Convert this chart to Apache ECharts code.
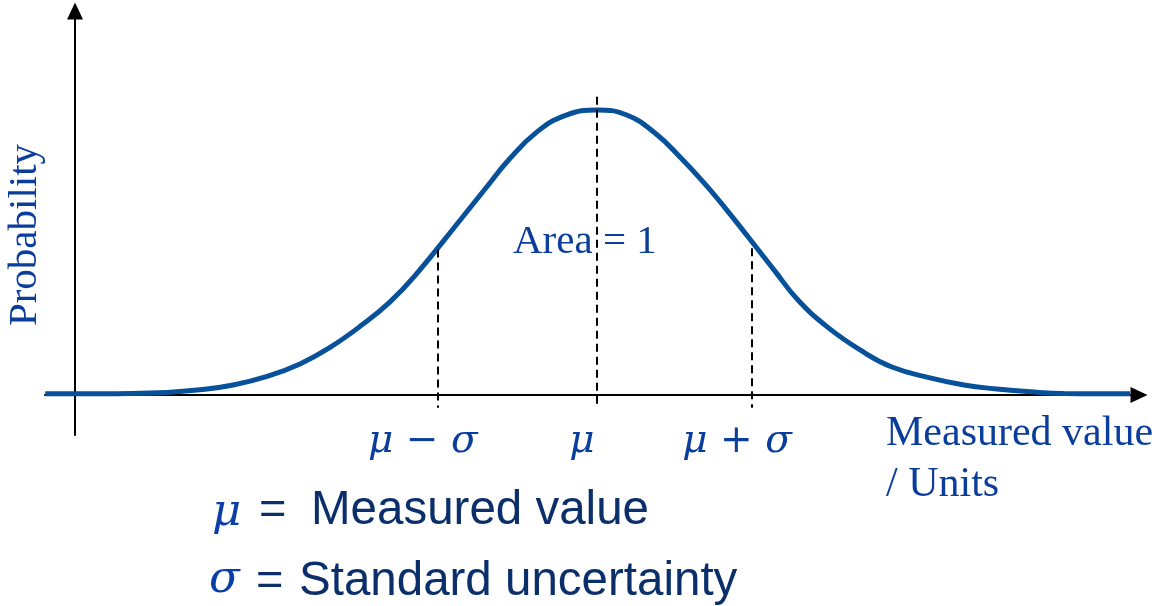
<!DOCTYPE html>
<html>
<head>
<meta charset="utf-8">
<title>Normal distribution</title>
<script src="https://cdn.jsdelivr.net/npm/echarts@6/dist/echarts.min.js"></script>
<style>
  html, body { margin: 0; padding: 0; background: #fff; }
  #chart { width: 1159px; height: 606px; }
</style>
</head>
<body>
<div id="chart"></div>
<script>
const curveX = [-0.57, 0.48, 1.76, 2.39, 3.03, 3.68, 4.31, 4.87, 5.5, 6.03, 6.51, 7.38, 7.84, 8.31, 8.85, 9.41, 10,
  10.57, 11.11, 11.59, 12.05, 12.53, 13.39, 13.85, 14.41, 15.04, 15.65, 16.38, 17.03, 17.66, 18.3, 18.95, 20.21]
const curveY = [0.4, 0.4, 0.9, 1.8, 3.5, 6.5, 10.9, 16.5, 24.6, 32.6, 41.8, 61.4, 71.9, 82.5, 92.3, 98.2, 100,
  98.2, 91.9, 83.5, 74.4, 63.9, 43.9, 33.3, 23.9, 15.8, 9.8, 6.0, 3.5, 2.1, 1.1, 0.5, 0.4]

// mu - sigma, mu, mu + sigma
const tickX = [6.95, 10, 12.97]
const tickLabels = ['μ − σ', 'μ', 'μ + σ']
const guideTop = [51, 104.6, 51.5]
const guideBottom = -4.5

const blueText = '#0a3d9c'
const navyText = '#0b2f6b'
const serif = '"Liberation Serif", "DejaVu Serif", serif'
const mathSerif = '"DejaVu Serif", "Liberation Serif", serif'
const sans = '"Liberation Sans", Arial, sans-serif'

const chart = echarts.init(document.getElementById('chart'))

chart.setOption({
  animation: false,
  grid: {
    left: 45,
    right: 20,
    top: 11,
    bottom: 171,
    containLabel: false
  },
  xAxis: {
    type: 'value',
    min: -0.575,
    max: 20.383,
    splitLine: { show: false },
    axisTick: { show: false },
    axisLabel: { show: false },
    axisLine: {
      onZero: true,
      symbol: ['none', 'triangle'],
      symbolSize: [16, 17],
      lineStyle: { color: '#000', width: 2 }
    }
  },
  yAxis: {
    type: 'value',
    min: -14.04,
    max: 134.7,
    splitLine: { show: false },
    axisTick: { show: false },
    axisLabel: { show: false },
    axisLine: {
      onZero: true,
      symbol: ['none', 'triangle'],
      symbolSize: [16, 17],
      lineStyle: { color: '#000', width: 2 }
    }
  },
  series: [
    {
      type: 'line',
      data: curveX.map((x, i) => [x, curveY[i]]),
      smooth: 0.45,
      showSymbol: false,
      silent: true,
      z: 3,
      lineStyle: { color: '#07509a', width: 5 },
      markLine: {
        silent: true,
        symbol: 'none',
        label: { show: false },
        lineStyle: { color: '#000', width: 2, type: [8, 5] },
        data: tickX.map((x, i) => [
          { coord: [x, guideTop[i]] },
          { coord: [x, guideBottom] }
        ])
      }
    },
    {
      // tick captions under the axis
      type: 'scatter',
      symbolSize: 0,
      silent: true,
      clip: false,
      itemStyle: { opacity: 1 },
      data: tickX.map((x, i) => ({ value: [x, 0], name: tickLabels[i] })),
      label: {
        show: true,
        position: 'bottom',
        distance: 27,
        offset: [-15, 0],
        formatter: p => p.name,
        fontFamily: mathSerif,
        fontStyle: 'italic',
        fontSize: 39,
        color: blueText
      }
    }
  ],
  graphic: [
    {
      type: 'text',
      x: 513,
      y: 242,
      style: { text: 'Area = 1', font: '41px ' + serif, fill: blueText, textAlign: 'left', textVerticalAlign: 'middle' }
    },
    {
      type: 'text',
      x: 25,
      y: 235,
      rotation: Math.PI / 2,
      style: { text: 'Probability', font: '41px ' + serif, fill: blueText, textAlign: 'center', textVerticalAlign: 'middle' }
    },
    {
      type: 'text',
      x: 886,
      y: 434,
      style: { text: 'Measured value', font: '42px ' + serif, fill: blueText, textAlign: 'left', textVerticalAlign: 'middle' }
    },
    {
      type: 'text',
      x: 886,
      y: 485,
      style: { text: '/ Units', font: '42px ' + serif, fill: blueText, textAlign: 'left', textVerticalAlign: 'middle' }
    },
    {
      type: 'text',
      x: 212,
      y: 513,
      style: { text: 'μ', font: 'italic 45px ' + mathSerif, fill: '#0b3fa8', textAlign: 'left', textVerticalAlign: 'middle' }
    },
    {
      type: 'text',
      x: 259,
      y: 511,
      style: { text: '=', font: '47px ' + sans, fill: navyText, textAlign: 'left', textVerticalAlign: 'middle' }
    },
    {
      type: 'text',
      x: 311,
      y: 511,
      style: { text: 'Measured value', font: '47.5px ' + sans, fill: navyText, textAlign: 'left', textVerticalAlign: 'middle' }
    },
    {
      type: 'text',
      x: 209,
      y: 580,
      style: { text: 'σ', font: 'italic 45px ' + mathSerif, fill: '#0b3fa8', textAlign: 'left', textVerticalAlign: 'middle' }
    },
    {
      type: 'text',
      x: 256,
      y: 582,
      style: { text: '=', font: '47px ' + sans, fill: navyText, textAlign: 'left', textVerticalAlign: 'middle' }
    },
    {
      type: 'text',
      x: 299,
      y: 582,
      style: { text: 'Standard uncertainty', font: '47.5px ' + sans, fill: navyText, textAlign: 'left', textVerticalAlign: 'middle' }
    }
  ]
})
</script>
</body>
</html>
